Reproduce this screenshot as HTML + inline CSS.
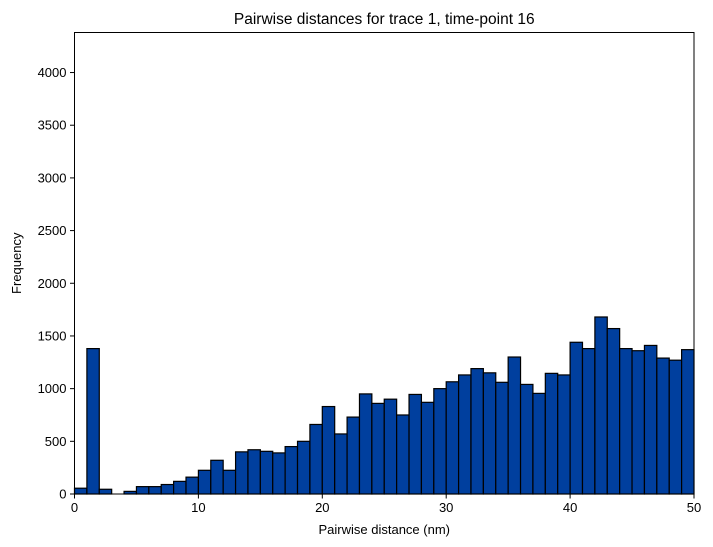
<!DOCTYPE html>
<html><head><meta charset="utf-8"><style>
html,body{margin:0;padding:0;background:#fff;width:713px;height:547px;overflow:hidden}
svg text{font-family:"Liberation Sans","DejaVu Sans",sans-serif;fill:#000}
</style></head><body>
<svg id="chart" width="713" height="547" xmlns="http://www.w3.org/2000/svg"></svg>
<script>
const binStarts=[0,1,2,3,4,5,6,7,8,9,10,11,12,13,14,15,16,17,18,19,20,21,22,23,24,25,26,27,28,29,30,31,32,33,34,35,36,37,38,39,40,41,42,43,44,45,46,47,48,49];
const counts=[55,1380,45,0,25,70,70,90,120,160,225,320,225,400,420,405,390,450,500,660,830,570,730,950,860,900,750,945,870,1000,1065,1130,1190,1150,1060,1300,1040,955,1145,1130,1440,1380,1680,1570,1380,1360,1410,1290,1270,1370];
const xTicks=[0,10,20,30,40,50];
const yTicks=[0,500,1000,1500,2000,2500,3000,3500,4000];
const binWidth=1;
const L=74.5,R=694,T=32.5,B=494,xMax=50,yMax=4380;
const sx=v=>L+(R-L)*v/xMax, sy=v=>B-(B-T)*v/yMax;
const svg=document.getElementById('chart');
const NS='http://www.w3.org/2000/svg';
function mk(tag,attrs,parent){const e=document.createElementNS(NS,tag);for(const k in attrs)e.setAttribute(k,attrs[k]);(parent||svg).appendChild(e);return e;}
const bars=mk('g',{});


counts.forEach((c,i)=>{
  const x0=sx(binStarts[i]),x1=sx(binStarts[i]+binWidth),y=sy(c);
  const r=mk('rect',{x:x0,y:y,width:x1-x0,height:B-y,fill:'#003f9e',stroke:'#000','stroke-width':1.2},bars);
  
  
});
const frame=mk('rect',{x:L,y:T,width:R-L,height:B-T,fill:'none',stroke:'#000','stroke-width':1});


xTicks.forEach(t=>{
  const x=sx(t);
  mk('line',{x1:x,x2:x,y1:B,y2:B+4.5,stroke:'#000','stroke-width':1});
  const tx=mk('text',{x:x,y:B+18,'text-anchor':'middle','font-size':13});
  tx.textContent=t;
  
  
});
yTicks.forEach(t=>{
  const y=sy(t);
  mk('line',{x1:L-4.5,x2:L,y1:y,y2:y,stroke:'#000','stroke-width':1});
  const tx=mk('text',{x:L-8,y:y+4.5,'text-anchor':'end','font-size':13});
  tx.textContent=t;
  
  
});
const title=mk('text',{x:(L+R)/2,y:24,'text-anchor':'middle','font-size':15.5});
title.textContent='Pairwise distances for trace 1, time-point 16';


const xl=mk('text',{x:(L+R)/2,y:534,'text-anchor':'middle','font-size':13});
xl.textContent='Pairwise distance (nm)';


const yl=mk('text',{x:21,y:(T+B)/2,'text-anchor':'middle','font-size':13,transform:'rotate(-90 21 '+((T+B)/2)+')'});
yl.textContent='Frequency';


</script>
</body></html>
